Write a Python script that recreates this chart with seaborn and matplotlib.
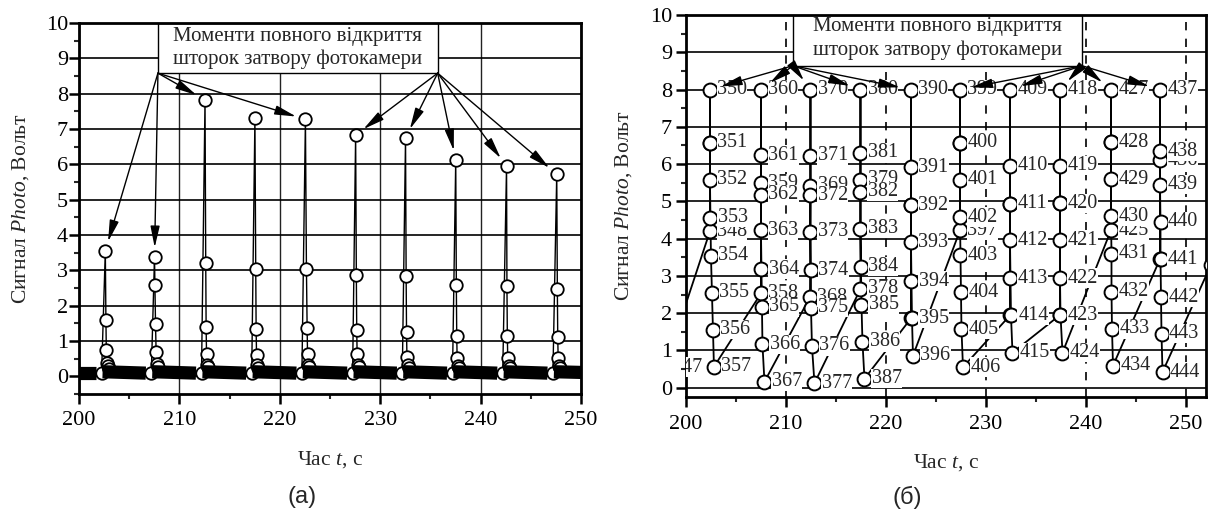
import numpy as np
import pandas as pd
import seaborn as sns
import matplotlib.pyplot as plt
from matplotlib.patches import Rectangle
from matplotlib.ticker import MultipleLocator

# ---------- (а) сигнал Photo ----------
# кожен спалах: точка перед ним, пік, спад
spike_t = [
    [202.25, 202.62, 202.68, 202.72, 202.78, 202.85, 202.95],
    [207.20, 207.52, 207.56, 207.62, 207.68, 207.75, 207.85],
    [212.20, 212.55, 212.62, 212.66, 212.70, 212.78, 212.88],
    [217.20, 217.52, 217.60, 217.64, 217.68, 217.75, 217.85],
    [222.20, 222.55, 222.65, 222.72, 222.76, 222.82, 222.92],
    [227.25, 227.55, 227.62, 227.66, 227.70, 227.76, 227.86],
    [232.20, 232.52, 232.58, 232.62, 232.66, 232.74, 232.84],
    [237.20, 237.52, 237.58, 237.62, 237.66, 237.74, 237.84],
    [242.20, 242.58, 242.62, 242.66, 242.70, 242.78, 242.88],
    [247.20, 247.58, 247.64, 247.68, 247.72, 247.80, 247.90],
]
spike_u = [
    [0.10, 3.55, 1.58, 0.74, 0.37, 0.30, 0.22],
    [0.10, 3.37, 2.58, 1.48, 0.68, 0.36, 0.26],
    [0.10, 7.82, 3.22, 1.39, 0.62, 0.33, 0.25],
    [0.10, 7.30, 3.03, 1.35, 0.60, 0.31, 0.24],
    [0.10, 7.27, 3.05, 1.36, 0.63, 0.33, 0.26],
    [0.10, 6.83, 2.88, 1.30, 0.62, 0.33, 0.25],
    [0.10, 6.75, 2.85, 1.25, 0.56, 0.31, 0.24],
    [0.10, 6.12, 2.58, 1.13, 0.51, 0.30, 0.24],
    [0.10, 5.95, 2.55, 1.13, 0.51, 0.30, 0.24],
    [0.10, 5.72, 2.46, 1.10, 0.53, 0.30, 0.24],
]
# фон між спалахами (щільні відліки), початок і кінець кожного відрізка
band_t = [[200.0, 201.70], [202.35, 206.65], [207.30, 211.65], [212.30, 216.65],
          [217.30, 221.65], [222.30, 226.70], [227.35, 231.65], [232.30, 236.65],
          [237.30, 241.65], [242.30, 246.65], [247.30, 250.0]]
band_u = [[0.09, 0.09], [0.13, 0.09], [0.13, 0.09], [0.13, 0.09], [0.13, 0.09],
          [0.13, 0.09], [0.13, 0.09], [0.13, 0.09], [0.13, 0.09], [0.13, 0.09],
          [0.13, 0.11]]
arrows_a = [[0, 1, 2, 4], [5, 6, 7, 8, 9]]   # на які піки вказують стрілки

# ---------- (б) номери кадрів ----------
frame_n = list(range(347, 446))
frame_t = [197.9,
           202.4, 202.4, 202.4, 202.4, 202.4, 202.45, 202.5, 202.6, 202.7, 202.8,
           207.5, 207.5, 207.5, 207.5, 207.5, 207.5, 207.55, 207.6, 207.65, 207.85,
           212.4, 212.45, 212.45, 212.45, 212.45, 212.45, 212.5, 212.5, 212.6, 212.85,
           217.45, 217.45, 217.45, 217.45, 217.45, 217.45, 217.5, 217.55, 217.65, 217.85,
           222.5, 222.5, 222.5, 222.5, 222.5, 222.5, 222.55, 222.6, 222.7,
           227.4, 227.4, 227.4, 227.4, 227.4, 227.4, 227.45, 227.5, 227.55, 227.7,
           232.4, 232.4, 232.4, 232.4, 232.4, 232.4, 232.45, 232.5, 232.65,
           237.4, 237.4, 237.4, 237.4, 237.4, 237.4, 237.4, 237.45, 237.65,
           242.5, 242.5, 242.5, 242.5, 242.5, 242.5, 242.55, 242.55, 242.6, 242.7,
           247.4, 247.4, 247.4, 247.4, 247.4, 247.45, 247.45, 247.5, 247.55, 247.65,
           252.5]
frame_u = [0.55,
           4.20, 6.57, 8.0, 6.57, 5.58, 4.56, 3.54, 2.55, 1.56, 0.56,
           2.53, 5.48, 8.0, 6.24, 5.18, 4.22, 3.18, 2.17, 1.16, 0.16,
           2.43, 5.42, 8.0, 6.23, 5.16, 4.19, 3.15, 2.15, 1.12, 0.12,
           2.65, 5.58, 8.0, 6.30, 5.26, 4.27, 3.25, 2.23, 1.23, 0.24,
           1.86, 4.90, 8.0, 5.91, 4.90, 3.90, 2.86, 1.86, 0.86,
           4.22, 6.57, 8.0, 6.57, 5.58, 4.58, 3.56, 2.56, 1.57, 0.55,
           1.94, 4.94, 8.0, 5.96, 4.94, 3.95, 2.94, 1.94, 0.94,
           1.95, 4.95, 8.0, 5.96, 4.95, 3.96, 2.94, 1.95, 0.94,
           4.23, 6.58, 8.0, 6.58, 5.60, 4.60, 3.60, 2.58, 1.58, 0.59,
           3.45, 6.10, 8.0, 6.35, 5.45, 4.45, 3.45, 2.43, 1.45, 0.42,
           3.30]
arrows_b = [[350, 360, 370, 380, 390], [399, 409, 418, 427, 437]]

caption = "Моменти повного відкриття\nшторок затвору фотокамери"

sns.set_style("ticks")
plt.rcParams['font.family'] = ['Liberation Serif', 'DejaVu Serif']
plt.rcParams['mathtext.fontset'] = 'custom'
plt.rcParams['mathtext.rm'] = 'Liberation Serif'
plt.rcParams['mathtext.it'] = 'Liberation Serif:italic'

fig = plt.figure(figsize=(12.1, 5.15), dpi=100)
ax1 = fig.add_axes([0.0653, 0.2350, 0.4149, 0.7204])
ax2 = fig.add_axes([0.5669, 0.2291, 0.4298, 0.7417])

spikes = pd.DataFrame({
    't': np.concatenate(spike_t), 'u': np.concatenate(spike_u),
    'k': np.repeat(np.arange(len(spike_t)), len(spike_t[0]))})
band = pd.DataFrame({
    't': np.concatenate(band_t), 'u': np.concatenate(band_u),
    'k': np.repeat(np.arange(len(band_t)), 2)})
frames = pd.DataFrame({'t': frame_t, 'u': frame_u, 'n': frame_n})

mk = dict(marker='o', markerfacecolor='white', markeredgecolor='black')
arrow = '-|>,head_length=1.3,head_width=0.28'

# ---- (а) ----
sns.lineplot(data=spikes, x='t', y='u', units='k', estimator=None, sort=False,
             color='black', lw=1.0, markersize=9, markeredgewidth=1.3,
             zorder=3, ax=ax1, legend=False, **mk)
sns.lineplot(data=band, x='t', y='u', units='k', estimator=None, sort=False,
             color='black', lw=9.5, solid_capstyle='butt', zorder=4,
             ax=ax1, legend=False)

x0, x1, yb = 207.86, 235.72, 8.58
ax1.add_patch(Rectangle((x0, yb), x1 - x0, 10 - yb, fc='white', ec='black',
                        lw=1.0, zorder=2.5))
ax1.text((x0 + x1) / 2, (yb + 10) / 2, caption, ha='center', va='center',
         fontsize=15, linespacing=1.25, zorder=6)
for org, ids in zip([(x0, yb), (x1, yb)], arrows_a):
    for i in ids:
        ax1.annotate('', xy=(spike_t[i][1], spike_u[i][1]), xytext=org,
                     arrowprops=dict(arrowstyle=arrow, color='black', lw=1.0,
                                     shrinkA=0, shrinkB=7),
                     zorder=5)

ax1.set_xlim(200, 250)
ax1.set_ylim(-0.5, 10)

# ---- (б) ----
sns.lineplot(data=frames, x='t', y='u', estimator=None, sort=False,
             color='black', lw=1.3, markersize=10, markeredgewidth=1.4,
             zorder=3, ax=ax2, legend=False, **mk)
for t, u, n in zip(frame_t, frame_u, frame_n):
    if t > 252:
        continue   # підпис цілком за межами осей
    ax2.text(t + 0.72, u, str(n), ha='left', va='center', fontsize=14.5,
             bbox=dict(fc='white', ec='none', pad=0.2), zorder=4, clip_on=True)

x0, x1, yb = 210.7, 239.6, 8.64
ax2.add_patch(Rectangle((x0, yb), x1 - x0, 10 - yb, fc='white', ec='black',
                        lw=1.0, zorder=2.5))
ax2.text((x0 + x1) / 2, (yb + 10) / 2 + 0.05, caption, ha='center', va='center',
         fontsize=15, linespacing=1.25, zorder=6)
for org, ids in zip([(x0, yb), (x1, yb)], arrows_b):
    for n in ids:
        j = frame_n.index(n)
        ax2.annotate('', xy=(frame_t[j], frame_u[j]), xytext=org,
                     arrowprops=dict(arrowstyle=arrow, color='black', lw=1.0,
                                     shrinkA=0, shrinkB=8),
                     zorder=5)

ax2.set_xlim(200, 252)
ax2.set_ylim(-0.25, 10)

# ---- оформлення ----
for ax in (ax1, ax2):
    ax.set_xticks(range(200, 251, 10))
    ax.set_yticks(range(0, 11))
    ax.xaxis.set_minor_locator(MultipleLocator(5))
    ax.yaxis.set_minor_locator(MultipleLocator(0.5))
    ax.tick_params(which='major', direction='out', length=7, width=1.8,
                   labelsize=16, colors='black')
    ax.tick_params(which='minor', direction='out', length=3.5, width=1.5)
    for s in ax.spines.values():
        s.set_visible(True)
        s.set_linewidth(2.0)
        s.set_color('black')
    ax.set_axisbelow(True)
    ax.grid(axis='y', which='major', color='black', lw=1.2)
    ax.set_xlabel('Час $t$, с', fontsize=15.5)
    ax.set_ylabel('Сигнал $Photo$, Вольт', fontsize=15.5)

ax1.grid(axis='x', which='major', color='#222222', lw=1.0)
ax2.grid(axis='x', which='major', color='black', lw=1.2, ls=(0, (5, 5)))
ax1.tick_params(axis='y', pad=1)
ax1.tick_params(axis='x', pad=5)
ax2.tick_params(axis='y', pad=3)
ax2.tick_params(axis='x', pad=6)
ax1.xaxis.set_label_coords(0.5, -0.148)
ax1.yaxis.set_label_coords(-0.096, 0.5)
ax2.xaxis.set_label_coords(0.5, -0.144)
ax2.yaxis.set_label_coords(-0.10, 0.5)

fig.text(0.2496, 0.035, '(а)', ha='center', va='center', fontsize=17,
         family='Liberation Sans')
fig.text(0.7496, 0.035, '(б)', ha='center', va='center', fontsize=17,
         family='Liberation Sans')

fig.savefig('out.png', dpi=100)
